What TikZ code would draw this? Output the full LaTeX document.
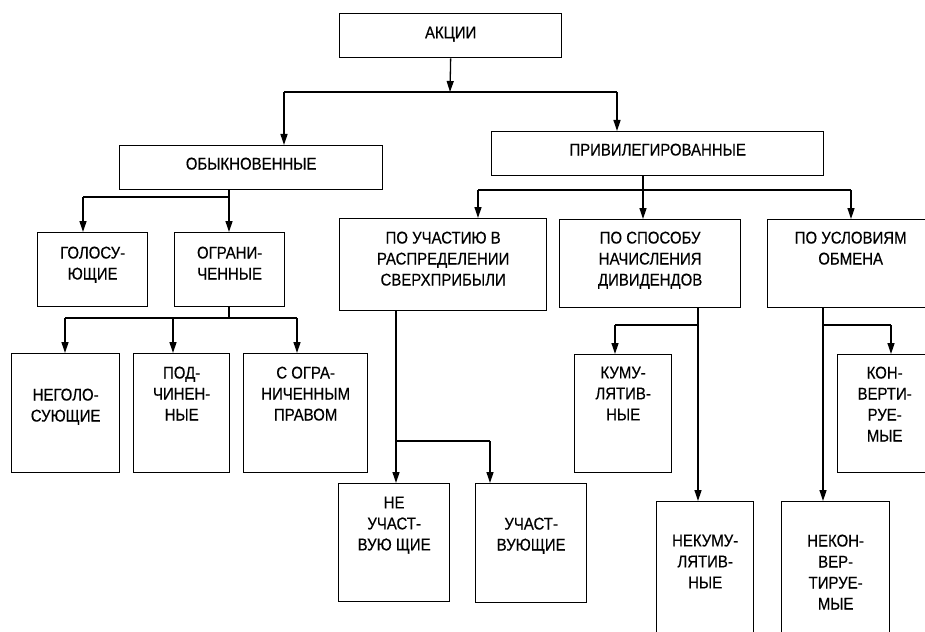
\documentclass[tikz,border=0pt]{standalone}
\usepackage{fontspec}
\setmainfont[FakeStretch=0.88,FakeBold=0.4]{Liberation Sans}
\usetikzlibrary{arrows.meta}
\newcommand{\cell}[4]{\parbox[c][#2pt][t]{#1pt}{\centering\vspace*{#3pt}#4}}

\begin{document}
\begin{tikzpicture}[x=1pt,y=-1pt,line width=1.3pt]
\tikzset{box/.style={draw,inner sep=0pt,anchor=north west}}
\tikzset{every node/.style={font=\fontsize{17}{21}\selectfont}}
\tikzset{arr/.style={-{Triangle[length=11pt,width=7pt]}}}

\useasboundingbox (0,0) rectangle (925,631);
\clip (0,0) rectangle (925,631);

\node[box] (akc) at (339,13) {\cell{222}{44}{13}{АКЦИИ}};
\node[box] (obyk) at (119,145) {\cell{263}{44}{12}{ОБЫКНОВЕННЫЕ}};
\node[box] (priv) at (491,131) {\cell{332}{44}{12}{ПРИВИЛЕГИРОВАННЫЕ}};
\node[box] (gol) at (37,232) {\cell{110}{74}{14}{ГОЛОСУ-\\ЮЩИЕ}};
\node[box] (ogr) at (174,232) {\cell{110}{74}{14}{ОГРАНИ-\\ЧЕННЫЕ}};
\node[box] (uch) at (339,218) {\cell{207}{92}{13}{ПО УЧАСТИЮ В\\РАСПРЕДЕЛЕНИИ\\СВЕРХПРИБЫЛИ}};
\node[box] (spos) at (559,219) {\cell{181}{88}{12}{ПО СПОСОБУ\\НАЧИСЛЕНИЯ\\ДИВИДЕНДОВ}};
\node[box] (usl) at (767,219) {\cell{166}{88}{12}{ПО УСЛОВИЯМ\\ОБМЕНА}};
\node[box] (neg) at (11,353) {\cell{108}{119}{35}{НЕГОЛО-\\СУЮЩИЕ}};
\node[box] (podch) at (133,353) {\cell{96}{119}{13}{ПОД-\\ЧИНЕН-\\НЫЕ}};
\node[box] (sogr) at (243,353) {\cell{124}{119}{13}{С ОГРА-\\НИЧЕННЫМ\\ПРАВОМ}};
\node[box] (neuch) at (338,483) {\cell{111}{118}{13}{НЕ\\УЧАСТ-\\ВУЮ ЩИЕ}};
\node[box] (uchv) at (475,483) {\cell{111}{119}{34}{УЧАСТ-\\ВУЮЩИЕ}};
\node[box] (kum) at (574,354) {\cell{97}{118}{12}{КУМУ-\\ЛЯТИВ-\\НЫЕ}};
\node[box] (konv) at (837,354) {\cell{94}{118}{12}{КОН-\\ВЕРТИ-\\РУЕ-\\МЫЕ}};
\node[box] (nekum) at (656,501) {\cell{97}{159}{33}{НЕКУМУ-\\ЛЯТИВ-\\НЫЕ}};
\node[box] (nekon) at (781,501) {\cell{108}{159}{33}{НЕКОН-\\ВЕР-\\ТИРУЕ-\\МЫЕ}};

\coordinate (a0) at (450,92);
\coordinate (a1) at (284,92);
\coordinate (a2) at (617,92);
\draw[arr] (akc.south) -- (a0);
\draw (a1) -- (a2);
\draw[arr] (a1) -- (a1 |- obyk.north);
\draw[arr] (a2) -- (a2 |- priv.north);

\coordinate (b1) at (83,197);
\coordinate (b2) at (229,197);
\draw (b2 |- obyk.south) -- (b2) -- (b1);
\draw[arr] (b1) -- (b1 |- gol.north);
\draw[arr] (b2) -- (b2 |- ogr.north);

\coordinate (c0) at (229,318);
\coordinate (c1) at (65,318);
\coordinate (c2) at (173,318);
\coordinate (c3) at (297,318);
\draw (c0 |- ogr.south) -- (c0);
\draw (c1) -- (c3);
\draw[arr] (c1) -- (c1 |- neg.north);
\draw[arr] (c2) -- (c2 |- podch.north);
\draw[arr] (c3) -- (c3 |- sogr.north);

\coordinate (d0) at (643,190);
\coordinate (d1) at (478,190);
\coordinate (d3) at (851,190);
\draw (d0 |- priv.south) -- (d0);
\draw (d1) -- (d3);
\draw[arr] (d1) -- (d1 |- uch.north);
\draw[arr] (d0) -- (d0 |- spos.north);
\draw[arr] (d3) -- (d3 |- usl.north);

\coordinate (e0) at (396,441);
\coordinate (e1) at (490,441);
\draw[arr] (e0 |- uch.south) -- (e0 |- neuch.north);
\draw (e0) -- (e1);
\draw[arr] (e1) -- (e1 |- uchv.north);

\coordinate (f0) at (698,325);
\coordinate (f1) at (615,325);
\draw[arr] (f0 |- spos.south) -- (f0 |- nekum.north);
\draw (f0) -- (f1);
\draw[arr] (f1) -- (f1 |- kum.north);

\coordinate (g0) at (823,325);
\coordinate (g1) at (891,325);
\draw[arr] (g0 |- usl.south) -- (g0 |- nekon.north);
\draw (g0) -- (g1);
\draw[arr] (g1) -- (g1 |- konv.north);

\end{tikzpicture}
\end{document}
